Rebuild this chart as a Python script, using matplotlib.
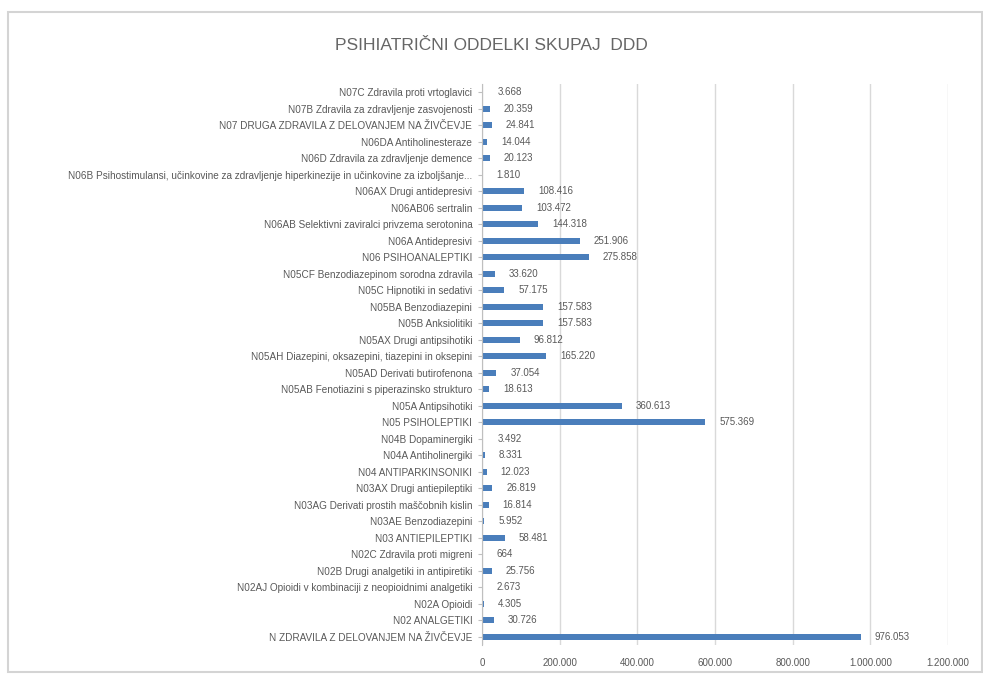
import matplotlib.pyplot as plt
from matplotlib.patches import Rectangle

# categories listed bottom to top (as they stack on the y axis)
labels = [
    "N ZDRAVILA Z DELOVANJEM NA ŽIVČEVJE",
    "N02 ANALGETIKI",
    "N02A Opioidi",
    "N02AJ Opioidi v kombinaciji z neopioidnimi analgetiki",
    "N02B Drugi analgetiki in antipiretiki",
    "N02C Zdravila proti migreni",
    "N03 ANTIEPILEPTIKI",
    "N03AE Benzodiazepini",
    "N03AG Derivati prostih maščobnih kislin",
    "N03AX Drugi antiepileptiki",
    "N04 ANTIPARKINSONIKI",
    "N04A Antiholinergiki",
    "N04B Dopaminergiki",
    "N05 PSIHOLEPTIKI",
    "N05A Antipsihotiki",
    "N05AB Fenotiazini s piperazinsko strukturo",
    "N05AD Derivati butirofenona",
    "N05AH Diazepini, oksazepini, tiazepini in oksepini",
    "N05AX Drugi antipsihotiki",
    "N05B Anksiolitiki",
    "N05BA Benzodiazepini",
    "N05C Hipnotiki in sedativi",
    "N05CF Benzodiazepinom sorodna zdravila",
    "N06 PSIHOANALEPTIKI",
    "N06A Antidepresivi",
    "N06AB Selektivni zaviralci privzema serotonina",
    "N06AB06 sertralin",
    "N06AX Drugi antidepresivi",
    "N06B Psihostimulansi, učinkovine za zdravljenje hiperkinezije in učinkovine za izboljšanje...",
    "N06D Zdravila za zdravljenje demence",
    "N06DA Antiholinesteraze",
    "N07 DRUGA ZDRAVILA Z DELOVANJEM NA ŽIVČEVJE",
    "N07B Zdravila za zdravljenje zasvojenosti",
    "N07C Zdravila proti vrtoglavici",
]
ddd = [
    976053, 30726, 4305, 2673, 25756, 664, 58481, 5952, 16814, 26819,
    12023, 8331, 3492, 575369, 360613, 18613, 37054, 165220, 96812,
    157583, 157583, 57175, 33620, 275858, 251906, 144318, 103472,
    108416, 1810, 20123, 14044, 24841, 20359, 3668,
]
xticks = [0, 200000, 400000, 600000, 800000, 1000000, 1200000]

def fmt(v):
    return f"{v:,}".replace(",", ".")

txt = "#595959"
plt.rcParams['font.family'] = ['Liberation Sans', 'DejaVu Sans']

fig = plt.figure(figsize=(9.83, 6.75), dpi=100)
fig.patches.append(Rectangle((8 / 983, 3 / 675), 974 / 983, 660 / 675,
                             transform=fig.transFigure, fill=False,
                             edgecolor="#d4d4d4", lw=1.5))
ax = fig.add_axes([482 / 983, 30 / 675, 466 / 983, 561 / 675])

y = range(len(labels))
ax.barh(y, ddd, height=0.35, color="#4a7ebb")
for yi, v in zip(y, ddd):
    ax.annotate(fmt(v), (v, yi), xytext=(10, 0), textcoords="offset points",
                va="center", ha="left", fontsize=7, color=txt)

ax.set_xlim(0, 1200000)
ax.set_ylim(-0.5, len(labels) - 0.5)
ax.set_yticks(list(y))
ax.set_yticklabels(labels, fontsize=7.2, color=txt)
ax.set_xticks(xticks)
ax.set_xticklabels([fmt(t) for t in xticks], fontsize=7, color=txt)
ax.tick_params(axis="y", length=3, color="#bfbfbf", pad=4)
ax.tick_params(axis="x", length=0, pad=9)
ax.grid(axis="x", color="#d9d9d9", lw=1)
ax.set_axisbelow(True)
for s in ["top", "right", "bottom"]:
    ax.spines[s].set_visible(False)
ax.spines["left"].set_color("#bfbfbf")

fig.text(0.5, 1 - 45 / 675, "PSIHIATRIČNI ODDELKI SKUPAJ  DDD",
         ha="center", va="center", fontsize=12.5, color="#666666")

fig.savefig("out.png", dpi=100)
